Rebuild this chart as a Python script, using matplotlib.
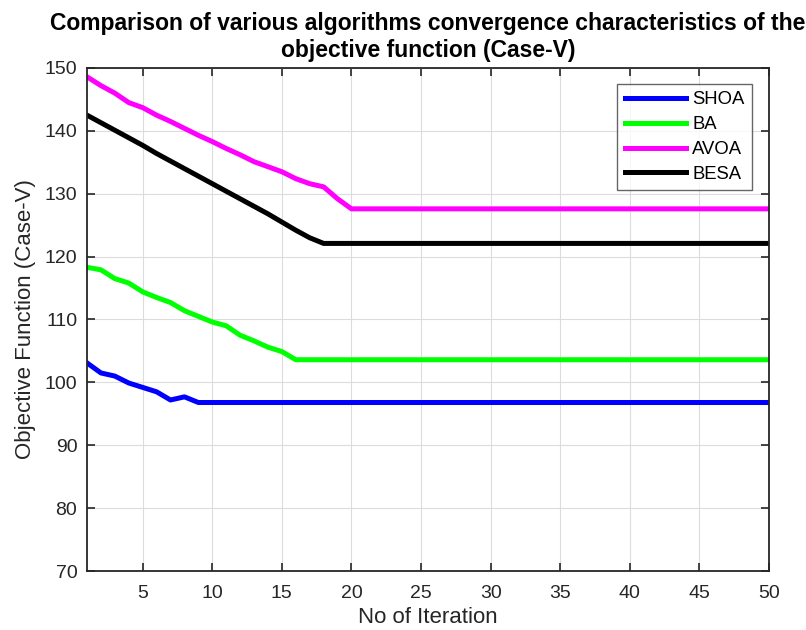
import matplotlib
matplotlib.use("Agg")
import matplotlib.pyplot as plt

plt.rcParams['font.family'] = ['Liberation Sans', 'DejaVu Sans']

iterations = list(range(1, 51))

shoa_head = [103.1, 101.5, 101.0, 99.9, 99.2, 98.5, 97.2, 97.7, 96.8]
shoa = shoa_head + [96.8] * (50 - len(shoa_head))

ba_head = [118.3, 117.9, 116.5, 115.8, 114.4, 113.5, 112.7, 111.4, 110.5, 109.6,
           109.0, 107.5, 106.6, 105.6, 104.9, 103.6]
ba = ba_head + [103.6] * (50 - len(ba_head))

avoa_head = [148.6, 147.2, 146.0, 144.5, 143.7, 142.5, 141.5, 140.4, 139.3, 138.3,
             137.2, 136.2, 135.1, 134.3, 133.5, 132.4, 131.6, 131.1, 129.2, 127.6]
avoa = avoa_head + [127.6] * (50 - len(avoa_head))

besa_head = [142.5, 141.3, 140.1, 138.9, 137.7, 136.4, 135.2, 134.0, 132.8, 131.6,
             130.4, 129.2, 128.0, 126.8, 125.5, 124.2, 123.0, 122.1]
besa = besa_head + [122.1] * (50 - len(besa_head))

series = [("SHOA", shoa, (0, 0, 1)),
          ("BA", ba, (0, 1, 0)),
          ("AVOA", avoa, (1, 0, 1)),
          ("BESA", besa, (0, 0, 0))]

xticks = [5, 10, 15, 20, 25, 30, 35, 40, 45, 50]
yticks = [70, 80, 90, 100, 110, 120, 130, 140, 150]

fig = plt.figure(figsize=(8.06, 6.30), dpi=100)
ax = fig.add_axes([87/806, 1 - 571/630, (769 - 87)/806, (571 - 68)/630])

for name, vals, col in series:
    ax.plot(iterations, vals, color=col, linewidth=3.6, label=name, solid_joinstyle='round')

ax.set_xlim(1, 50)
ax.set_ylim(70, 150)
ax.set_xticks(xticks)
ax.set_yticks(yticks)
ax.grid(True, color='#dcdcdc', linewidth=0.8)
ax.set_axisbelow(True)
ax.tick_params(direction='in', top=True, right=True, length=6, width=1.2,
               labelsize=14, colors='#262626')
ax.tick_params(axis='x', pad=10)
ax.tick_params(axis='y', pad=7)
for sp in ax.spines.values():
    sp.set_linewidth(1.3)
    sp.set_color('#262626')

ax.set_xlabel("No of Iteration", fontsize=16, color='#262626', labelpad=4)
ax.set_ylabel("Objective Function (Case-V)", fontsize=16, color='#262626', labelpad=6)
ax.set_title("Comparison of various algorithms convergence characteristics of the\nobjective function (Case-V)",
             fontsize=16.5, fontweight='bold', pad=8, linespacing=1.2)

leg = ax.legend(loc='upper right', bbox_to_anchor=(0.975, 0.968), borderaxespad=0,
                fontsize=13.3, frameon=True, fancybox=False, handlelength=3.3,
                labelspacing=0.42, borderpad=0.4, handletextpad=0.35)
leg.get_frame().set_edgecolor('#404040')
leg.get_frame().set_linewidth(1.0)

fig.savefig("out.png", dpi=100)
